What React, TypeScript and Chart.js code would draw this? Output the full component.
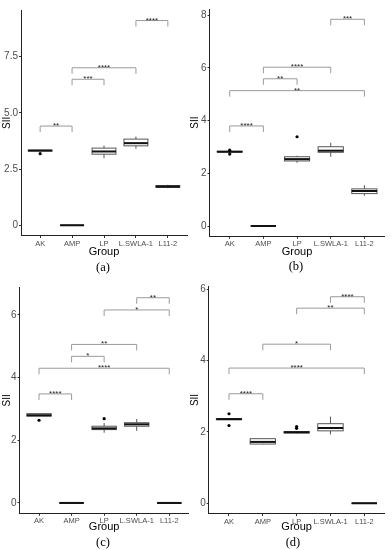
import React, { useEffect, useRef } from "react";
import { Chart, registerables } from "chart.js";
Chart.register(...registerables);

const FONT = "'Liberation Sans', Arial, sans-serif";
const SERIF = "'Liberation Serif', 'Times New Roman', serif";

const categories = ["AK", "AMP", "LP", "L.SWLA-1", "L11-2"];

// ---- Panel (a)
const aMin = [3.3, 0, 2.98, 3.4, 1.65];
const aQ1 = [3.3, 0, 3.16, 3.53, 1.68];
const aMed = [3.32, 0, 3.28, 3.65, 1.72];
const aQ3 = [3.34, 0, 3.43, 3.83, 1.77];
const aMax = [3.34, 0, 3.54, 3.94, 1.8];
const aOutGroup = [0];
const aOutValue = [3.18];
const aBrFrom = [0, 1, 1, 3];
const aBrTo = [1, 2, 3, 4];
const aBrY = [4.41, 6.49, 7.0, 9.1];
const aBrLabel = ["**", "***", "****", "****"];
const aYTicks = [0, 2.5, 5, 7.5];
const aYLabels = ["0", "2.5", "5.0", "7.5"];
const aYRange = [-0.455, 9.555];

// ---- Panel (b)
const bMin = [2.81, 0, 2.4, 2.63, 1.15];
const bQ1 = [2.81, 0, 2.47, 2.8, 1.23];
const bMed = [2.82, 0, 2.54, 2.86, 1.33];
const bQ3 = [2.84, 0, 2.63, 3.01, 1.41];
const bMax = [2.84, 0, 2.67, 3.16, 1.55];
const bOutGroup = [0, 0, 2];
const bOutValue = [2.88, 2.73, 3.39];
const bBrFrom = [0, 0, 1, 1, 3];
const bBrTo = [1, 4, 2, 3, 4];
const bBrY = [3.8, 5.14, 5.59, 6.03, 7.85];
const bBrLabel = ["****", "**", "**", "****", "***"];
const bYTicks = [0, 2, 4, 6, 8];
const bYLabels = ["0", "2", "4", "6", "8"];
const bYRange = [-0.39, 8.24];

// ---- Panel (c)
const cMin = [2.77, 0, 2.24, 2.3, 0];
const cQ1 = [2.77, 0, 2.34, 2.45, 0];
const cMed = [2.8, 0, 2.38, 2.51, 0];
const cQ3 = [2.85, 0, 2.45, 2.56, 0];
const cMax = [2.85, 0, 2.55, 2.68, 0];
const cOutGroup = [0, 2];
const cOutValue = [2.64, 2.69];
const cBrFrom = [0, 0, 1, 1, 2, 3];
const cBrTo = [1, 4, 2, 3, 4, 4];
const cBrY = [3.48, 4.3, 4.68, 5.06, 6.16, 6.55];
const cBrLabel = ["****", "****", "*", "**", "*", "**"];
const cYTicks = [0, 2, 4, 6];
const cYLabels = ["0", "2", "4", "6"];
const cYRange = [-0.33, 6.88];

// ---- Panel (d)
const dMin = [2.34, 1.65, 1.96, 1.93, 0];
const dQ1 = [2.34, 1.66, 1.97, 2.03, 0];
const dMed = [2.36, 1.72, 1.99, 2.11, 0];
const dQ3 = [2.37, 1.81, 2.01, 2.23, 0];
const dMax = [2.37, 1.82, 2.02, 2.43, 0];
const dOutGroup = [0, 0, 2, 2];
const dOutValue = [2.51, 2.18, 2.15, 2.1];
const dBrFrom = [0, 0, 1, 2, 3];
const dBrTo = [1, 4, 3, 4, 4];
const dBrY = [3.07, 3.79, 4.46, 5.47, 5.79];
const dBrLabel = ["****", "****", "*", "**", "****"];
const dYTicks = [0, 2, 4, 6];
const dYLabels = ["0", "2", "4", "6"];
const dYRange = [-0.29, 6.08];

type PanelSpec = {
  min: number[]; q1: number[]; med: number[]; q3: number[]; max: number[];
  outGroup: number[]; outValue: number[];
  brFrom: number[]; brTo: number[]; brY: number[]; brLabel: string[];
  yTicks: number[]; yLabels: string[]; yRange: number[];
  left: number; top: number; w: number; h: number;
  L: number; R: number; T: number; B: number;
  caption: string; capX: number; capY: number;
};

const panels: PanelSpec[] = [
  { min: aMin, q1: aQ1, med: aMed, q3: aQ3, max: aMax, outGroup: aOutGroup, outValue: aOutValue,
    brFrom: aBrFrom, brTo: aBrTo, brY: aBrY, brLabel: aBrLabel, yTicks: aYTicks, yLabels: aYLabels, yRange: aYRange,
    left: 0, top: 0, w: 196, h: 260, L: 21, R: 187, T: 10.3, B: 235.5, caption: "(a)", capX: 103, capY: 266.5 },
  { min: bMin, q1: bQ1, med: bMed, q3: bQ3, max: bMax, outGroup: bOutGroup, outValue: bOutValue,
    brFrom: bBrFrom, brTo: bBrTo, brY: bBrY, brLabel: bBrLabel, yTicks: bYTicks, yLabels: bYLabels, yRange: bYRange,
    left: 188, top: 0, w: 204, h: 260, L: 21.5, R: 196.6, T: 9, B: 236.3, caption: "(b)", capX: 296, capY: 266 },
  { min: cMin, q1: cQ1, med: cMed, q3: cQ3, max: cMax, outGroup: cOutGroup, outValue: cOutValue,
    brFrom: cBrFrom, brTo: cBrTo, brY: cBrY, brLabel: cBrLabel, yTicks: cYTicks, yLabels: cYLabels, yRange: cYRange,
    left: 0, top: 275, w: 196, h: 260, L: 19.5, R: 188.8, T: 12.4, B: 238.3, caption: "(c)", capX: 103, capY: 541.5 },
  { min: dMin, q1: dQ1, med: dMed, q3: dQ3, max: dMax, outGroup: dOutGroup, outValue: dOutValue,
    brFrom: dBrFrom, brTo: dBrTo, brY: dBrY, brLabel: dBrLabel, yTicks: dYTicks, yLabels: dYLabels, yRange: dYRange,
    left: 188, top: 275, w: 204, h: 260, L: 20.7, R: 196.6, T: 11.4, B: 238.6, caption: "(d)", capX: 293, capY: 541.5 },
];

function Panel({ p }: { p: PanelSpec }) {
  const ref = useRef<HTMLCanvasElement>(null);
  useEffect(() => {
    const canvas = ref.current;
    if (!canvas) return;
    const boxPlugin = {
      id: "boxes",
      beforeDatasetsDraw(chart: any) {
        const ctx = chart.ctx;
        const xs = chart.scales.x;
        const ys = chart.scales.y;
        ctx.save();
        // brackets
        ctx.strokeStyle = "#9a9a9a";
        ctx.lineWidth = 1;
        for (let i = 0; i < p.brY.length; i++) {
          const x1 = xs.getPixelForValue(p.brFrom[i]);
          const x2 = xs.getPixelForValue(p.brTo[i]);
          const yy = ys.getPixelForValue(p.brY[i]);
          const tip = 6;
          ctx.beginPath();
          ctx.moveTo(x1, yy + tip);
          ctx.lineTo(x1, yy);
          ctx.lineTo(x2, yy);
          ctx.lineTo(x2, yy + tip);
          ctx.stroke();
          ctx.fillStyle = "#222";
          ctx.font = `8px ${FONT}`;
          ctx.textAlign = "center";
          ctx.textBaseline = "alphabetic";
          ctx.fillText(p.brLabel[i], (x1 + x2) / 2, yy + 2);
        }
        // boxes
        for (let i = 0; i < categories.length; i++) {
          const cx = xs.getPixelForValue(i);
          const hw = xs.getPixelForValue(i + 0.375) - cx;
          const yMin = ys.getPixelForValue(p.min[i]);
          const yQ1 = ys.getPixelForValue(p.q1[i]);
          const yMed = ys.getPixelForValue(p.med[i]);
          const yQ3 = ys.getPixelForValue(p.q3[i]);
          const yMax = ys.getPixelForValue(p.max[i]);
          ctx.strokeStyle = "#444";
          ctx.lineWidth = 0.9;
          ctx.beginPath();
          ctx.moveTo(cx, yMax);
          ctx.lineTo(cx, yQ3);
          ctx.moveTo(cx, yQ1);
          ctx.lineTo(cx, yMin);
          ctx.stroke();
          ctx.fillStyle = "#fff";
          ctx.fillRect(cx - hw, yQ3, 2 * hw, yQ1 - yQ3);
          ctx.strokeRect(cx - hw, yQ3, 2 * hw, yQ1 - yQ3);
          ctx.strokeStyle = "#111";
          ctx.lineWidth = 2;
          ctx.beginPath();
          ctx.moveTo(cx - hw, yMed);
          ctx.lineTo(cx + hw, yMed);
          ctx.stroke();
        }
        ctx.restore();
      },
    };
    const chart = new Chart(canvas, {
      type: "scatter",
      data: {
        datasets: [
          {
            data: p.outGroup.map((g, i) => ({ x: g, y: p.outValue[i] })),
            pointRadius: 1.6,
            pointBackgroundColor: "#000",
            pointBorderWidth: 0,
          },
        ],
      },
      options: {
        responsive: false,
        animation: false,
        devicePixelRatio: 1,
        layout: { padding: { left: 0, right: p.w - p.R, top: p.T, bottom: 0 } },
        plugins: { legend: { display: false }, tooltip: { enabled: false } },
        scales: {
          x: {
            type: "linear",
            min: -0.6,
            max: 4.6,
            afterBuildTicks: (s: any) => {
              s.ticks = categories.map((_, i) => ({ value: i }));
            },
            afterFit: (s: any) => {
              s.height = p.h - p.B;
            },
            ticks: {
              callback: (v: any) => categories[v] ?? "",
              font: { size: 7.5, family: FONT },
              color: "#4d4d4d",
              padding: 1,
              maxRotation: 0,
              autoSkip: false,
            },
            grid: { display: true, drawOnChartArea: false, drawTicks: true, tickLength: 2.5, color: "#333" },
            border: { display: true, color: "#222", width: 1 },
            title: { display: true, text: "Group", font: { size: 11, family: FONT }, color: "#000", padding: { top: 0, bottom: 1 } },
          },
          y: {
            type: "linear",
            min: p.yRange[0],
            max: p.yRange[1],
            afterBuildTicks: (s: any) => {
              s.ticks = p.yTicks.map((v) => ({ value: v }));
            },
            afterFit: (s: any) => {
              s.width = p.L;
            },
            ticks: {
              callback: (v: any) => p.yLabels[p.yTicks.indexOf(v)] ?? "",
              font: { size: 10, family: FONT },
              color: "#4d4d4d",
              padding: 1,
            },
            grid: { display: true, drawOnChartArea: false, drawTicks: true, tickLength: 2, color: "#333" },
            border: { display: true, color: "#222", width: 1 },
            title: { display: true, text: "SII", font: { size: 10, family: FONT }, color: "#000", padding: { top: 1, bottom: 0 } },
          },
        },
      } as any,
      plugins: [boxPlugin],
    });
    return () => chart.destroy();
  }, [p]);
  return (
    <>
      <canvas
        ref={ref}
        width={p.w}
        height={p.h}
        style={{ position: "absolute", left: p.left, top: p.top, width: p.w, height: p.h }}
      />
      <div
        style={{
          position: "absolute",
          left: p.capX - 20,
          width: 40,
          top: p.capY - 8,
          height: 16,
          lineHeight: "16px",
          textAlign: "center",
          fontFamily: SERIF,
          fontSize: 12.5,
          color: "#000",
        }}
      >
        {p.caption}
      </div>
    </>
  );
}

export default function App() {
  return (
    <div style={{ position: "absolute", left: 0, top: 0, width: 392, height: 550, background: "#fff", overflow: "hidden" }}>
      {panels.map((p, i) => (
        <Panel key={i} p={p} />
      ))}
    </div>
  );
}
